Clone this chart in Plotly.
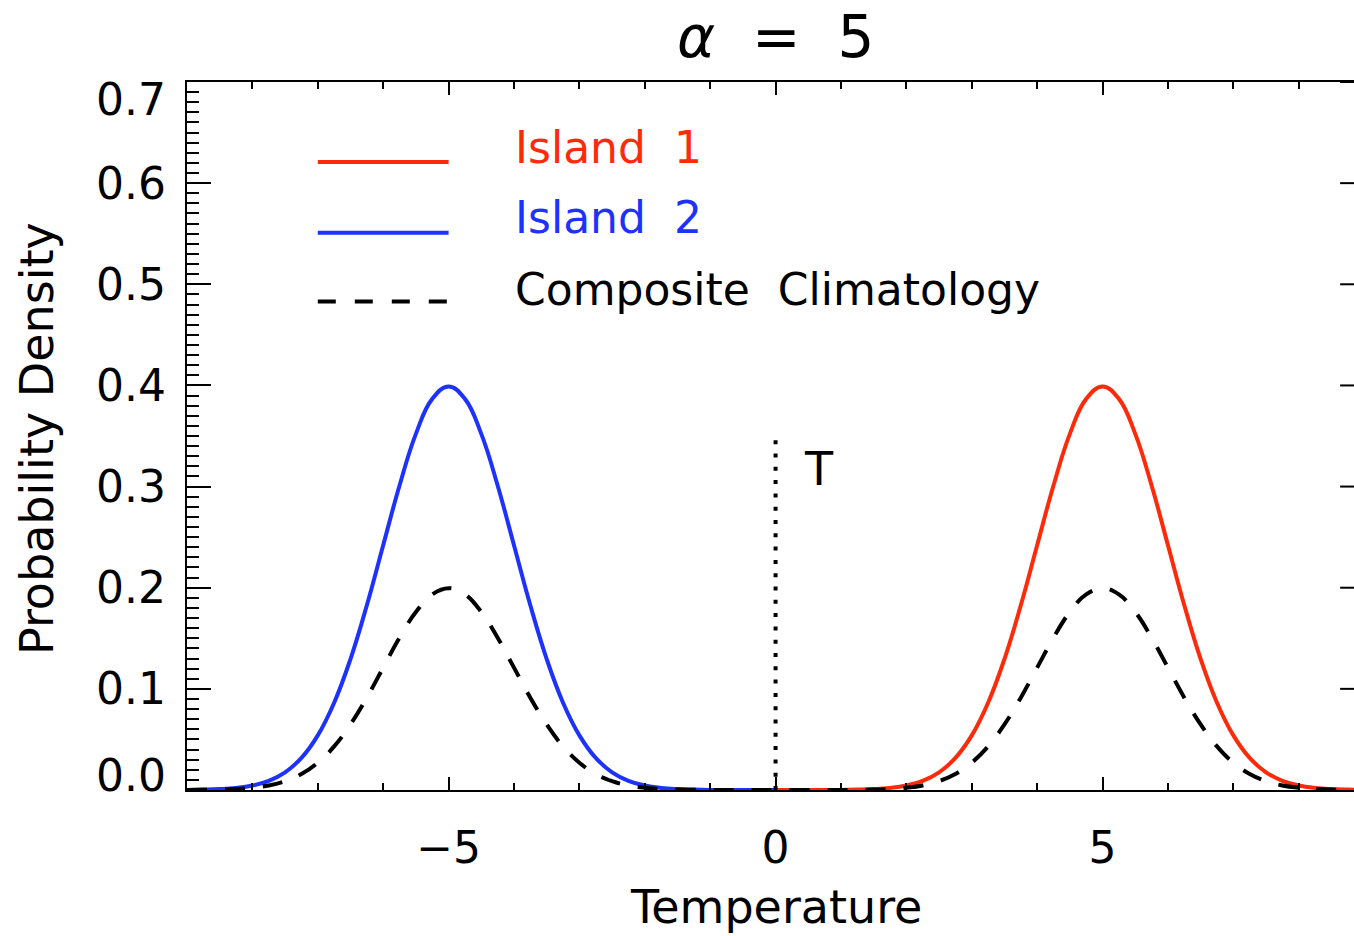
import plotly.graph_objects as go

# ---------------- data ----------------
x_island1 = [i * 0.25 for i in range(0, 37)]          # 0 .. 9
pdf_island1 = [0.0000, 0.0000, 0.0000, 0.0000, 0.0001, 0.0004, 0.0009, 0.0020, 0.0044,
               0.0091, 0.0175, 0.0317, 0.0540, 0.0863, 0.1295, 0.1826, 0.2420, 0.3011,
               0.3521, 0.3867, 0.3989, 0.3867, 0.3521, 0.3011, 0.2420, 0.1826, 0.1295,
               0.0863, 0.0540, 0.0317, 0.0175, 0.0091, 0.0044, 0.0020, 0.0009, 0.0004,
               0.0001]

x_island2 = [i * 0.25 for i in range(-36, 1)]         # -9 .. 0
pdf_island2 = [0.0001, 0.0004, 0.0009, 0.0020, 0.0044, 0.0091, 0.0175, 0.0317, 0.0540,
               0.0863, 0.1295, 0.1826, 0.2420, 0.3011, 0.3521, 0.3867, 0.3989, 0.3867,
               0.3521, 0.3011, 0.2420, 0.1826, 0.1295, 0.0863, 0.0540, 0.0317, 0.0175,
               0.0091, 0.0044, 0.0020, 0.0009, 0.0004, 0.0001, 0.0000, 0.0000, 0.0000,
               0.0000]

x_composite = [i * 0.25 for i in range(-36, 37)]      # -9 .. 9
pdf_composite = [0.0000, 0.0002, 0.0004, 0.0010, 0.0022, 0.0045, 0.0088, 0.0158, 0.0270,
                 0.0431, 0.0648, 0.0913, 0.1210, 0.1506, 0.1760, 0.1934, 0.1995,
                 0.1934, 0.1760, 0.1506, 0.1210, 0.0913, 0.0648, 0.0431, 0.0270, 0.0158,
                 0.0088, 0.0045, 0.0022, 0.0010, 0.0004, 0.0002, 0.0000, 0.0000, 0.0000,
                 0.0000, 0.0000,
                 0.0000, 0.0000, 0.0000, 0.0000, 0.0002, 0.0004, 0.0010, 0.0022, 0.0045,
                 0.0088, 0.0158, 0.0270, 0.0431, 0.0648, 0.0913, 0.1210, 0.1506, 0.1760,
                 0.1934, 0.1995, 0.1934, 0.1760, 0.1506, 0.1210, 0.0913, 0.0648, 0.0431,
                 0.0270, 0.0158, 0.0088, 0.0045, 0.0022, 0.0010, 0.0004, 0.0002, 0.0000]

threshold_x = [0, 0]
threshold_y = [0, 0.35]
threshold_label = "T"

x_tick_vals = [-5, 0, 5]
x_tick_text = ["\u22125", "0", "5"]
y_tick_vals = [0.0, 0.1, 0.2, 0.3, 0.4, 0.5, 0.6, 0.7]
y_tick_text = ["0.0", "0.1", "0.2", "0.3", "0.4", "0.5", "0.6", "0.7"]

series_names = ["Island 1", "Island 2", "Composite Climatology"]
title_text = "<i>\u03b1</i>\u00a0\u00a0=\u00a0\u00a05"
x_title = "Temperature"
y_title = "Probability Density"

# ---------------- styles ----------------
RED = "#ff2a0a"
BLUE = "#1e32ff"
FONT = "DejaVu Sans"
XMIN, XMAX_FULL = -9, 9
XMAX_VIS = 8.845

fig = go.Figure()
fig.add_trace(go.Scatter(x=x_island2, y=pdf_island2, mode="lines",
                         line=dict(color=BLUE, width=4, shape="spline", smoothing=1.2),
                         name=series_names[1], showlegend=False))
fig.add_trace(go.Scatter(x=x_island1, y=pdf_island1, mode="lines",
                         line=dict(color=RED, width=4, shape="spline", smoothing=1.2),
                         name=series_names[0], showlegend=False))
fig.add_trace(go.Scatter(x=x_composite, y=pdf_composite, mode="lines",
                         line=dict(color="black", width=4, dash="20px,18px", shape="spline", smoothing=1.2),
                         name=series_names[2], showlegend=False))
fig.add_trace(go.Scatter(x=threshold_x, y=threshold_y, mode="lines",
                         line=dict(color="black", width=4, dash="4px,9.3px"), showlegend=False))

shapes = []
# right-side major ticks (right axis lies just beyond the visible canvas)
for yv in y_tick_vals[1:]:
    shapes.append(dict(type="line", xref="x", yref="y", x0=XMAX_FULL - 24 / 65.4, x1=XMAX_VIS,
                       y0=yv, y1=yv, line=dict(color="black", width=2)))

# legend samples
legend_rows = [(0.621, 0.635, RED, "solid"), (0.551, 0.566, BLUE, "solid"), (0.483, 0.495, "black", "18px,19px")]
annotations = []
for (ly, ty, col, dash), name in zip(legend_rows, series_names):
    shapes.append(dict(type="line", xref="x", yref="y", x0=-7.0, x1=-5.0, y0=ly, y1=ly,
                       line=dict(color=col, width=4, dash=dash)))
    annotations.append(dict(x=-4.02, y=ty, xref="x", yref="y", xanchor="left", yanchor="middle",
                            text=name.replace(" ", "\u00a0\u00a0"),
                            showarrow=False, font=dict(family=FONT, size=44, color=col)))

# threshold label
annotations.append(dict(x=0.67, y=0.317, xref="x", yref="y", text=threshold_label, showarrow=False,
                        font=dict(family=FONT, size=46, color="black")))

# y tick labels (top and bottom shifted inside as in the original)
for yv, yt in zip(y_tick_vals, y_tick_text):
    shift = 0
    if yv == y_tick_vals[0]:
        shift = 15
    elif yv == y_tick_vals[-1]:
        shift = -17
    annotations.append(dict(x=0, y=yv, xref="paper", yref="y", xanchor="right", yanchor="middle",
                            xshift=-19, yshift=shift, text=yt, showarrow=False,
                            font=dict(family=FONT, size=44, color="black")))

# title
annotations.append(dict(x=0, y=1, xref="x", yref="paper", xanchor="center", yanchor="middle",
                        yshift=45, text=title_text, showarrow=False, borderpad=0,
                        font=dict(family=FONT, size=58, color="black")))
# axis titles
annotations.append(dict(x=0, y=0, xref="x", yref="paper", xanchor="center", yanchor="middle",
                        yshift=-117, text=x_title, showarrow=False, borderpad=0,
                        font=dict(family=FONT, size=46, color="black")))
annotations.append(dict(x=0, y=(790 - 439) / 708, xref="paper", yref="paper", xanchor="center", yanchor="middle",
                        xshift=-150, text=y_title, textangle=-90, showarrow=False,
                        font=dict(family=FONT, size=46, color="black")))

fig.update_layout(
    width=1354, height=936,
    margin=dict(l=187, r=0, t=82, b=146, pad=0),
    paper_bgcolor="white", plot_bgcolor="white",
    showlegend=False,
    shapes=shapes, annotations=annotations,
    font=dict(family=FONT, color="black"),
)
fig.update_xaxes(
    range=[XMIN, XMAX_VIS], tickvals=x_tick_vals, ticktext=x_tick_text,
    ticks="inside", ticklen=13, tickwidth=2, tickcolor="black",
    minor=dict(dtick=1, tick0=0, ticks="inside", ticklen=7, tickwidth=2, tickcolor="black", showgrid=False),
    showline=True, linewidth=2, linecolor="black", mirror="ticks",
    showgrid=False, zeroline=False,
    tickfont=dict(family=FONT, size=44, color="black"), ticklabelstandoff=18,
)
fig.update_yaxes(
    range=[0, 0.7], tickvals=y_tick_vals, showticklabels=False,
    ticks="inside", ticklen=24, tickwidth=2, tickcolor="black",
    minor=dict(dtick=0.01, tick0=0, ticks="inside", ticklen=12, tickwidth=2, tickcolor="black", showgrid=False),
    showline=True, linewidth=2, linecolor="black", mirror=False,
    showgrid=False, zeroline=False,
)

fig.write_html(
    "out.html",
    config={"displayModeBar": False, "staticPlot": True},
    post_script="document.documentElement.style.margin='0';document.body.style.margin='0';"
                "document.body.style.overflow='hidden';document.documentElement.style.overflow='hidden';",
)
